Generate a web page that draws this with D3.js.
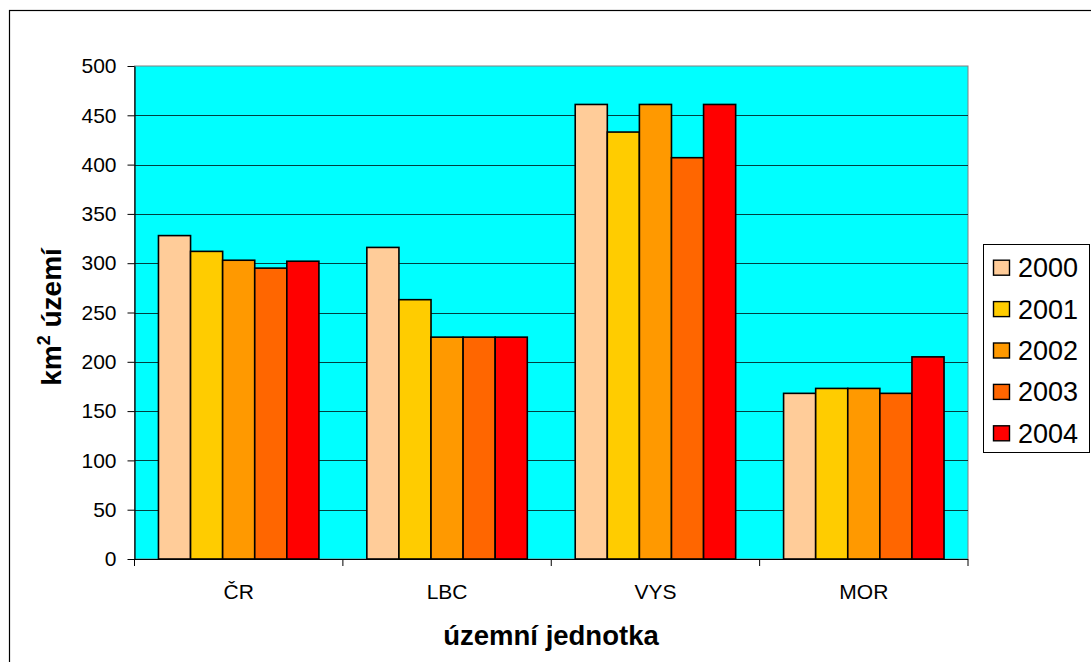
<!DOCTYPE html>
<html>
<head>
<meta charset="utf-8">
<script src="https://cdn.jsdelivr.net/npm/d3@7/dist/d3.min.js"></script>
<style>
  html, body { margin: 0; padding: 0; background: #fff; }
  svg { display: block; font-family: "Liberation Sans", Arial, sans-serif; }
</style>
</head>
<body>
<svg id="chart" width="1091" height="662"></svg>
<script>
// Územní jednotky and years
const categories = ["ČR", "LBC", "VYS", "MOR"];
const years = ["2000", "2001", "2002", "2003", "2004"];
// km² území per year, one array per year (in category order)
const values2000 = [328, 316, 461, 168];
const values2001 = [312, 263, 433, 173];
const values2002 = [303, 225, 461, 173];
const values2003 = [295, 225, 407, 168];
const values2004 = [302, 225, 461, 205];
const yTicks = [0, 50, 100, 150, 200, 250, 300, 350, 400, 450, 500];
const colors = ["#FFCC99", "#FFCC00", "#FF9900", "#FF6600", "#FF0000"];

const series = [values2000, values2001, values2002, values2003, values2004];

const svg = d3.select("#chart");

// outer chart border (frame continues past the page edge)
svg.append("rect")
  .attr("x", 9.5).attr("y", 10.5)
  .attr("width", 1200).attr("height", 800)
  .attr("fill", "#fff").attr("stroke", "#000").attr("stroke-width", 1.2);

const plot = { left: 134.5, right: 968, top: 66, bottom: 559 };

const x0 = d3.scaleBand().domain(categories).range([plot.left, plot.right]).paddingInner(0).paddingOuter(0);
const groupWidth = x0.bandwidth() * 0.77;
const x1 = d3.scaleBand().domain(years).range([0, groupWidth]).padding(0);
const y = d3.scaleLinear().domain([0, 500]).range([plot.bottom, plot.top]);

// plot background
svg.append("rect")
  .attr("x", plot.left).attr("y", plot.top)
  .attr("width", plot.right - plot.left).attr("height", plot.bottom - plot.top)
  .attr("fill", "#00FFFF").attr("stroke", "#808080").attr("stroke-width", 1);

// gridlines
svg.append("g")
  .selectAll("line")
  .data(yTicks.filter(d => d > 0 && d < 500))
  .join("line")
  .attr("x1", plot.left).attr("x2", plot.right)
  .attr("y1", d => Math.round(y(d)) + 0.5).attr("y2", d => Math.round(y(d)) + 0.5)
  .attr("stroke", "#000").attr("stroke-opacity", 0.75).attr("stroke-width", 1);

// bars
const groups = svg.append("g")
  .selectAll("g")
  .data(categories)
  .join("g")
  .attr("transform", c => `translate(${x0(c) + (x0.bandwidth() - groupWidth) / 2},0)`);

groups.selectAll("rect")
  .data((c, ci) => years.map((yr, si) => ({ yr, si, v: series[si][ci] })))
  .join("rect")
  .attr("x", d => x1(d.yr))
  .attr("y", d => y(d.v))
  .attr("width", x1.bandwidth())
  .attr("height", d => plot.bottom - y(d.v))
  .attr("fill", d => colors[d.si])
  .attr("stroke", "#000").attr("stroke-width", 1.6);

// y axis
const yAxis = d3.axisLeft(y).tickValues(yTicks).tickSize(7).tickPadding(11).tickSizeOuter(0);
const ya = svg.append("g").attr("transform", `translate(${plot.left},0)`).call(yAxis);
ya.attr("font-size", 21).attr("font-family", "Liberation Sans, Arial, sans-serif");
ya.select(".domain").attr("stroke", "#000").attr("stroke-width", 1.2);
ya.selectAll(".tick line").attr("stroke", "#000");
ya.selectAll("text").attr("fill", "#000");

// x axis: ticks between categories
const xa = svg.append("g").attr("transform", `translate(0,${plot.bottom})`);
xa.append("line").attr("x1", plot.left).attr("x2", plot.right)
  .attr("y1", 0.5).attr("y2", 0.5).attr("stroke", "#000").attr("stroke-width", 1.2);
const boundaries = categories.map(c => x0(c)).concat([plot.right]);
xa.selectAll("line.tk").data(boundaries).join("line").attr("class", "tk")
  .attr("x1", d => d).attr("x2", d => d).attr("y1", 0).attr("y2", 7)
  .attr("stroke", "#000");
xa.selectAll("text").data(categories).join("text")
  .attr("x", c => x0(c) + x0.bandwidth() / 2)
  .attr("y", 40)
  .attr("text-anchor", "middle")
  .attr("font-size", 21)
  .text(c => c);

// axis titles
svg.append("text")
  .attr("x", 551).attr("y", 645)
  .attr("text-anchor", "middle")
  .attr("font-size", 27.5).attr("font-weight", "bold")
  .text("územní jednotka");

const yt = svg.append("text")
  .attr("transform", "translate(61,317) rotate(-90)")
  .attr("text-anchor", "middle")
  .attr("font-size", 28).attr("font-weight", "bold");
yt.append("tspan").text("km");
yt.append("tspan").attr("dy", -11).attr("font-size", 18).text("2");
yt.append("tspan").attr("dy", 11).text(" území");

// legend
const lg = svg.append("g");
lg.append("rect")
  .attr("x", 983.5).attr("y", 244.5).attr("width", 106).attr("height", 208)
  .attr("fill", "#fff").attr("stroke", "#000").attr("stroke-width", 1);
const ly = d3.scalePoint().domain(years).range([267.7, 433.3]);
const items = lg.selectAll("g.item").data(years).join("g").attr("class", "item")
  .attr("transform", d => `translate(0,${ly(d)})`);
items.append("rect")
  .attr("x", 993.5).attr("y", -7.5).attr("width", 16).attr("height", 15)
  .attr("fill", (d, i) => colors[i]).attr("stroke", "#000").attr("stroke-width", 1.4);
items.append("text")
  .attr("x", 1018).attr("y", 9.5)
  .attr("font-size", 27)
  .text(d => d);
</script>
</body>
</html>
